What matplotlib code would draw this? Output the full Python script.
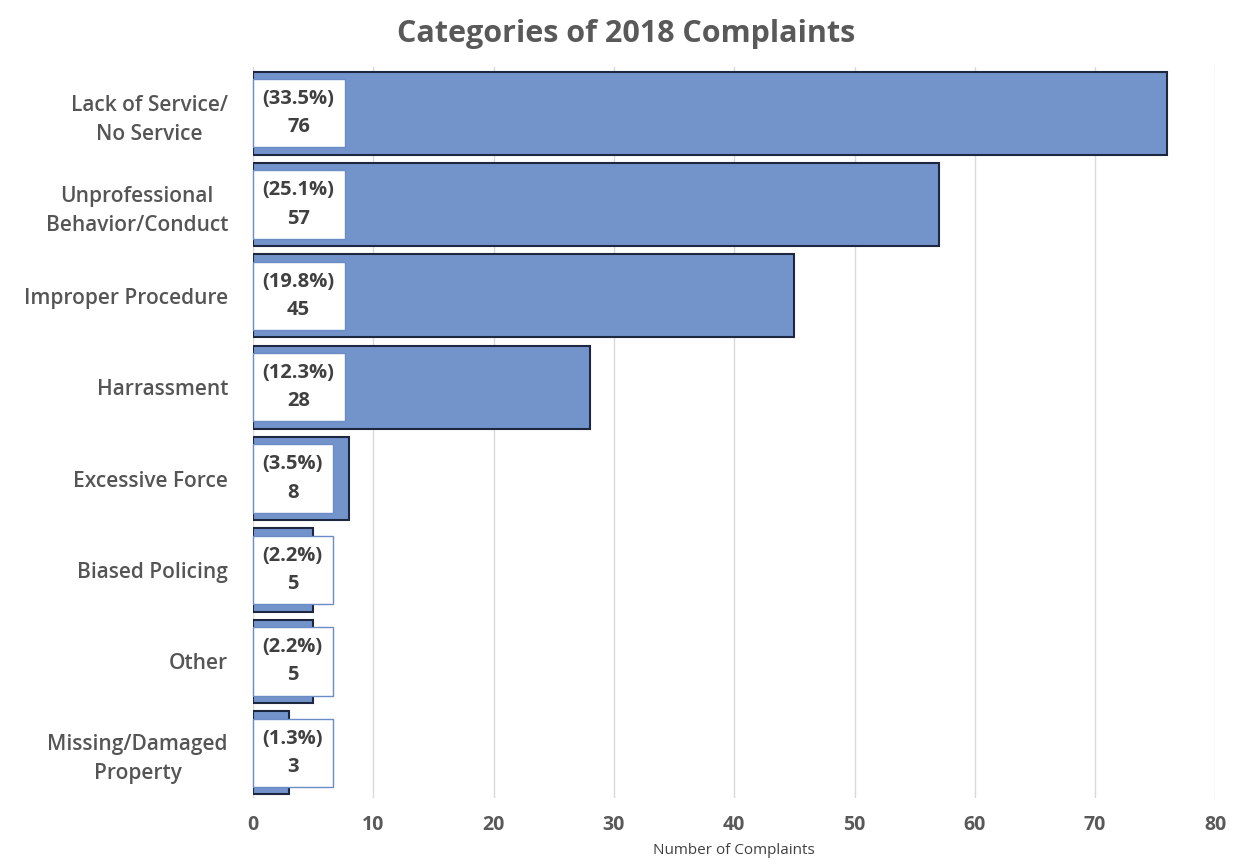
import matplotlib.pyplot as plt

categories = ["Lack of Service/\nNo Service", "Unprofessional\nBehavior/Conduct", "Improper Procedure",
              "Harrassment", "Excessive Force", "Biased Policing", "Other",
              "Missing/Damaged\nProperty"]
counts = [76, 57, 45, 28, 8, 5, 5, 3]
percents = ["33.5%", "25.1%", "19.8%", "12.3%", "3.5%", "2.2%", "2.2%", "1.3%"]
xticks = [0, 10, 20, 30, 40, 50, 60, 70, 80]

plt.rcParams['font.family'] = ['Open Sans', 'DejaVu Sans']

fig = plt.figure(figsize=(12.34, 8.65), dpi=100)
ax = fig.add_axes([0.205, 0.077, 0.78, 0.845])

ypos = list(range(len(categories)))
ax.barh(ypos, counts, height=0.91, color="#7393CB", edgecolor="#1E2740", linewidth=1.5, zorder=2)

for y, c, p in zip(ypos, counts, percents):
    ax.text(0.8, y, "(" + p + ")\n" + str(c), ha="left", va="center", fontsize=14.5,
            fontweight="bold", color="#404040", linespacing=1.55, zorder=3, multialignment="center",
            bbox=dict(boxstyle="square,pad=0.5", facecolor="white", edgecolor="#6C8CC6", linewidth=1))

ax.set_ylim(len(categories) - 0.5, -0.5)
ax.set_xlim(0, 80)
ax.set_xticks(xticks)
ax.set_yticks(ypos)
ax.set_yticklabels(categories, fontsize=15, fontweight="semibold", color="#555555", linespacing=1.5)
for lab in ax.get_yticklabels():
    lab.set_multialignment("center")
ax.tick_params(axis="x", labelsize=14, labelcolor="#595959", length=0, pad=12)
ax.tick_params(axis="y", length=0, pad=18)
for lab in ax.get_xticklabels():
    lab.set_fontweight("bold")
ax.grid(axis="x", color="#D9D9D9", linewidth=1, zorder=0)
for s in ax.spines.values():
    s.set_visible(False)

ax.set_xlabel("Number of Complaints", fontsize=11, color="#404040", labelpad=6)
fig.suptitle("Categories of 2018 Complaints", x=0.507, y=0.978, fontsize=22, fontweight="bold", color="#595959")

fig.savefig("out.png", dpi=100)
